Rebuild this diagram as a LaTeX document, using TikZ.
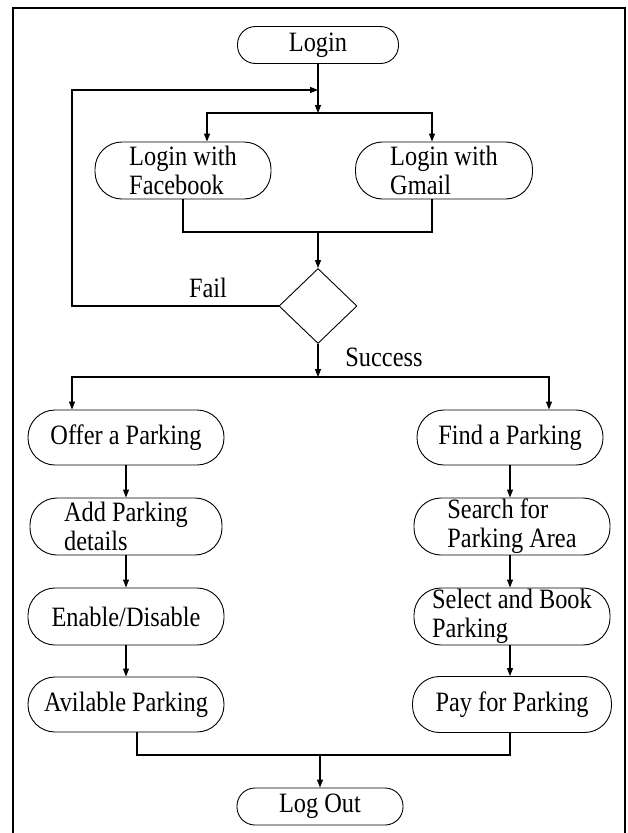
\documentclass[tikz,border=0pt]{standalone}
\usepackage{fontspec}
\setmainfont{Liberation Serif}[FakeStretch=0.87]
\usetikzlibrary{shapes.geometric,arrows.meta}
\tikzset{
  txt/.style={font=\fontsize{28}{29}\selectfont},
  term/.style={draw, line width=0.9pt, rectangle, rounded corners=18pt, inner sep=0pt, align=left, txt},
  bigterm/.style={term, rounded corners=27pt},
  dec/.style={draw, line width=0.9pt, diamond, inner sep=0pt, minimum width=78pt, minimum height=75pt},
  conn/.style={line width=1.1pt},
  arr/.style={conn, -{Triangle[length=8pt,width=6pt]}},
}
\begin{document}
\begin{tikzpicture}[x=1pt,y=-1pt]
\useasboundingbox (0,0) rectangle (628,833);
\draw[line width=1.4pt] (13,836) -- (13,8) -- (625,8) -- (625,836);

\node[term, minimum width=161pt, minimum height=37pt] (login) at (318,45) {Login};
\node[bigterm, minimum width=176pt, minimum height=57pt] (fb) at (183,170.5) {Login with\\Facebook};
\node[bigterm, minimum width=177pt, minimum height=57pt] (gm) at (444,170.5) {Login with\\Gmail};
\node[dec] (d) at (318,306) {};

\node[bigterm, minimum width=196pt, minimum height=55pt] (offer) at (126,437.5) {Offer a Parking};
\node[bigterm, minimum width=192pt, minimum height=57pt] (add) at (126,526.5) {Add Parking\\details};
\node[bigterm, minimum width=196pt, minimum height=57pt] (enable) at (126,616.5) {Enable/Disable};
\node[bigterm, minimum width=196pt, minimum height=55pt] (avail) at (126,704.5) {Avilable Parking};

\node[bigterm, minimum width=186pt, minimum height=55pt] (find) at (510,437.5) {Find a Parking};
\node[bigterm, minimum width=196pt, minimum height=57pt] (search) at (512,526.5) {Search for\\Parking Area};
\node[bigterm, minimum width=196pt, minimum height=57pt] (select) at (512,616.5) {Select and Book\\Parking};
\node[bigterm, minimum width=199pt, minimum height=56pt] (pay) at (512,704.5) {Pay for Parking};

\node[term, minimum width=166pt, minimum height=37pt] (logout) at (320,806.5) {Log Out};

\node[txt] (fail) at (208,288) {Fail};
\node[txt] (succ) at (384,357) {Success};

\coordinate (j1) at (318,90);
\coordinate (j2) at (318,113);
\coordinate (j3) at (318,232);
\coordinate (j4) at (318,377);
\coordinate (j5) at (320,755);
\coordinate (fl) at (72,306);

\draw[arr] (login.south) -- (j2);
\draw[arr] (j2) -| ([xshift=24pt]fb.north);
\draw[arr] (j2) -| ([xshift=-12pt]gm.north);
\draw[conn] (fb.south) |- (j3);
\draw[conn] ([xshift=-12pt]gm.south) |- (j3);
\draw[arr] (j3) -- (d.north);
\draw[arr] (d.west) -- (fl) |- (j1);
\draw[arr] (d.south) -- (j4);
\draw[arr] (j4) -| ([xshift=-54pt]offer.north);
\draw[arr] (j4) -| ([xshift=39pt]find.north);

\draw[arr] (offer) -- (add);
\draw[arr] (add) -- (enable);
\draw[arr] (enable) -- (avail);
\draw[arr] (find.south) -- (find.south |- search.north);
\draw[arr] (search.south -| find.south) -- (find.south |- select.north);
\draw[arr] (select.south -| find.south) -- (find.south |- pay.north);

\draw[conn] ([xshift=11pt]avail.south) |- (j5);
\draw[conn] ([xshift=-2pt]pay.south) |- (j5);
\draw[arr] (j5) -- (logout.north);
\end{tikzpicture}
\end{document}
